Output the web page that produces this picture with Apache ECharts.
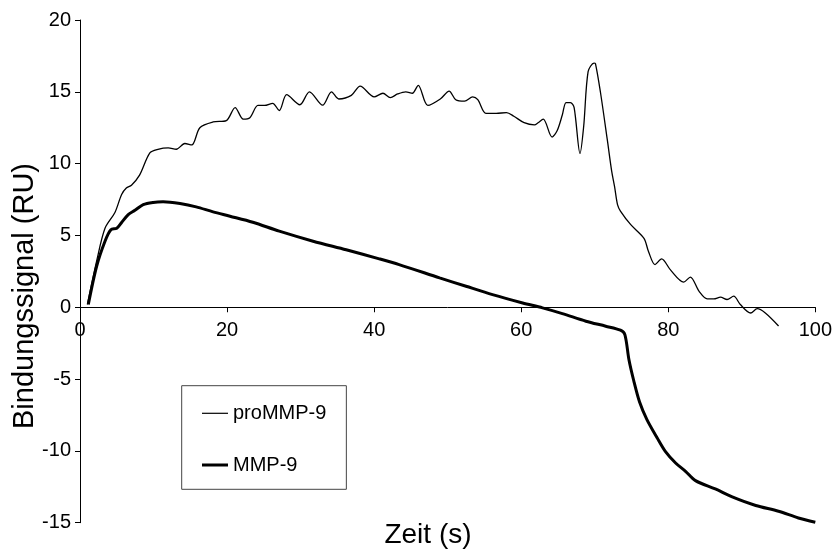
<!DOCTYPE html>
<html>
<head>
<meta charset="utf-8">
<script src="https://cdn.jsdelivr.net/npm/echarts@6/dist/echarts.min.js"></script>
<style>html,body{margin:0;padding:0;background:#fff;}#c{width:835px;height:550px;}</style>
</head>
<body>
<div id="c"></div>
<script>
// ---- data ----
const seriesNames = ['proMMP-9', 'MMP-9'];
const proX = [1.0, 2.3, 3.4, 4.75, 5.66, 6.3, 7.0, 8.1, 9.5, 10.6, 12.0, 13.1, 14.25, 15.2, 16.3, 18.1, 19.9, 21.1, 22.2, 23.1, 24.2, 25.1, 26.2, 27.1, 28.1, 29.9, 31.2, 33.0, 34.2, 35.2, 36.9, 38.1, 40.0, 41.2, 42.2, 43.2, 44.3, 45.2, 46.0, 47.3, 49.0, 50.2, 51.1, 52.3, 53.4, 54.1, 55.2, 56.6, 58.0, 59.0, 60.4, 61.8, 62.3, 63.0, 64.2, 64.9, 65.6, 66.1, 66.7, 67.2, 68.0, 68.5, 69.1, 69.9, 70.1, 70.8, 71.7, 72.3, 72.7, 73.1, 73.5, 74.9, 76.7, 77.3, 78.2, 79.1, 80.3, 82.1, 83.0, 84.2, 85.3, 86.2, 87.1, 88.0, 88.9, 89.8, 91.2, 92.1, 93.2, 95.0];
const proY = [0.2, 3.3, 5.5, 6.6, 7.85, 8.3, 8.5, 9.2, 10.75, 11.0, 11.1, 11.0, 11.4, 11.3, 12.5, 12.9, 13.0, 13.9, 13.1, 13.2, 14.05, 14.05, 14.2, 13.7, 14.8, 14.1, 15.0, 14.07, 15.0, 14.5, 14.75, 15.4, 14.65, 14.9, 14.6, 14.85, 15.0, 14.9, 15.45, 14.05, 14.5, 15.05, 14.45, 14.35, 14.65, 14.45, 13.5, 13.5, 13.55, 13.3, 12.85, 12.7, 12.85, 13.1, 11.85, 12.3, 13.4, 14.25, 14.25, 13.9, 10.7, 12.6, 16.4, 17.0, 16.97, 14.9, 11.7, 9.5, 8.4, 7.15, 6.7, 5.75, 4.8, 3.9, 2.97, 3.37, 2.6, 1.75, 2.1, 1.1, 0.58, 0.58, 0.7, 0.54, 0.77, 0.19, -0.4, -0.1, -0.4, -1.3];
const mmpX = [1.13, 2.26, 3.4, 4.2, 5.0, 5.66, 6.56, 7.47, 8.6, 9.95, 11.3, 13.6, 15.8, 18.1, 20.4, 23.5, 27.1, 31.7, 36.2, 40.7, 43.4, 48.9, 52.5, 56.1, 60.2, 62.9, 65.6, 68.8, 71.5, 73.5, 74.1, 74.65, 75.3, 76.1, 77.1, 78.5, 79.6, 81.0, 82.35, 83.7, 86.4, 88.7, 91.9, 95.0, 97.7, 100];
const mmpY = [0.19, 2.85, 4.6, 5.4, 5.5, 5.9, 6.45, 6.75, 7.15, 7.3, 7.34, 7.22, 6.99, 6.64, 6.34, 5.92, 5.3, 4.6, 4.0, 3.37, 2.97, 2.05, 1.46, 0.88, 0.3, -0.04, -0.44, -0.97, -1.32, -1.6, -1.9, -3.64, -5.1, -6.6, -7.82, -9.1, -10.03, -10.84, -11.42, -12.07, -12.65, -13.2, -13.8, -14.2, -14.67, -14.97];
const xTicks = { min: 0, max: 100, interval: 20 };
const yTicks = { min: -15, max: 20, interval: 5 };
const xTitle = 'Zeit (s)';
const yTitle = 'Bindungssignal (RU)';

const pair = (xs, ys) => xs.map((x, i) => [x, ys[i]]);
const FONT = '"Liberation Sans", Arial, sans-serif';

const W = 835, H = 550;
const GRID = { left: 80, right: 18.3, top: 20, bottom: 27.3 };
const plotH = H - GRID.top - GRID.bottom;
// move x axis up to the y = 0 line
const xAxisOffset = -plotH * (0 - yTicks.min) / (yTicks.max - yTicks.min);

const chart = echarts.init(document.getElementById('c'), null, { renderer: 'canvas' });
chart.setOption({
  animation: false,
  backgroundColor: '#fff',
  grid: GRID,
  xAxis: {
    type: 'value', min: xTicks.min, max: xTicks.max, interval: xTicks.interval,
    position: 'bottom', offset: xAxisOffset,
    splitLine: { show: false },
    axisLine: { onZero: false, lineStyle: { color: '#000', width: 1 } },
    axisTick: { show: true, inside: false, length: 5, lineStyle: { color: '#000' } },
    axisLabel: { color: '#000', fontSize: 20, fontFamily: FONT, margin: 13, showMinLabel: true, showMaxLabel: true }
  },
  yAxis: {
    type: 'value', min: yTicks.min, max: yTicks.max, interval: yTicks.interval,
    splitLine: { show: false },
    axisLine: { show: true, onZero: false, lineStyle: { color: '#000', width: 1 } },
    axisTick: { show: true, inside: false, length: 5, lineStyle: { color: '#000' } },
    axisLabel: { color: '#000', fontSize: 20, fontFamily: FONT, margin: 9 }
  },
  legend: {
    left: 181.7, top: 385.7,
    orient: 'vertical',
    data: [
      { name: seriesNames[0], icon: 'path://M0,0h26v1.2h-26z' },
      { name: seriesNames[1], icon: 'path://M0,0h26v3h-26z' }
    ],
    symbolKeepAspect: true,
    backgroundColor: '#fff',
    borderColor: '#444', borderWidth: 1,
    padding: [17.6, 20, 14.3, 20.3],
    itemWidth: 26, itemHeight: 14, itemGap: 31.7,
    itemStyle: { borderWidth: 0 },
    textStyle: { color: '#000', fontSize: 20, fontFamily: FONT, lineHeight: 20 }
  },
  graphic: [
    { type: 'text', x: 428, y: 535, style: { text: xTitle, align: 'center', verticalAlign: 'middle', fill: '#000', font: '28px ' + FONT } },
    { type: 'text', x: 25, y: 296, rotation: Math.PI / 2, style: { text: yTitle, align: 'center', verticalAlign: 'middle', fill: '#000', font: '29px ' + FONT } }
  ],
  series: [
    { name: seriesNames[0], type: 'line', data: pair(proX, proY), symbol: 'none', smooth: 0.3,
      lineStyle: { color: '#000', width: 1.3 }, itemStyle: { color: '#000', borderWidth: 0 } },
    { name: seriesNames[1], type: 'line', data: pair(mmpX, mmpY), symbol: 'none', smooth: 0.3,
      lineStyle: { color: '#000', width: 3 }, itemStyle: { color: '#000', borderWidth: 0 } }
  ]
});
</script>
</body>
</html>
